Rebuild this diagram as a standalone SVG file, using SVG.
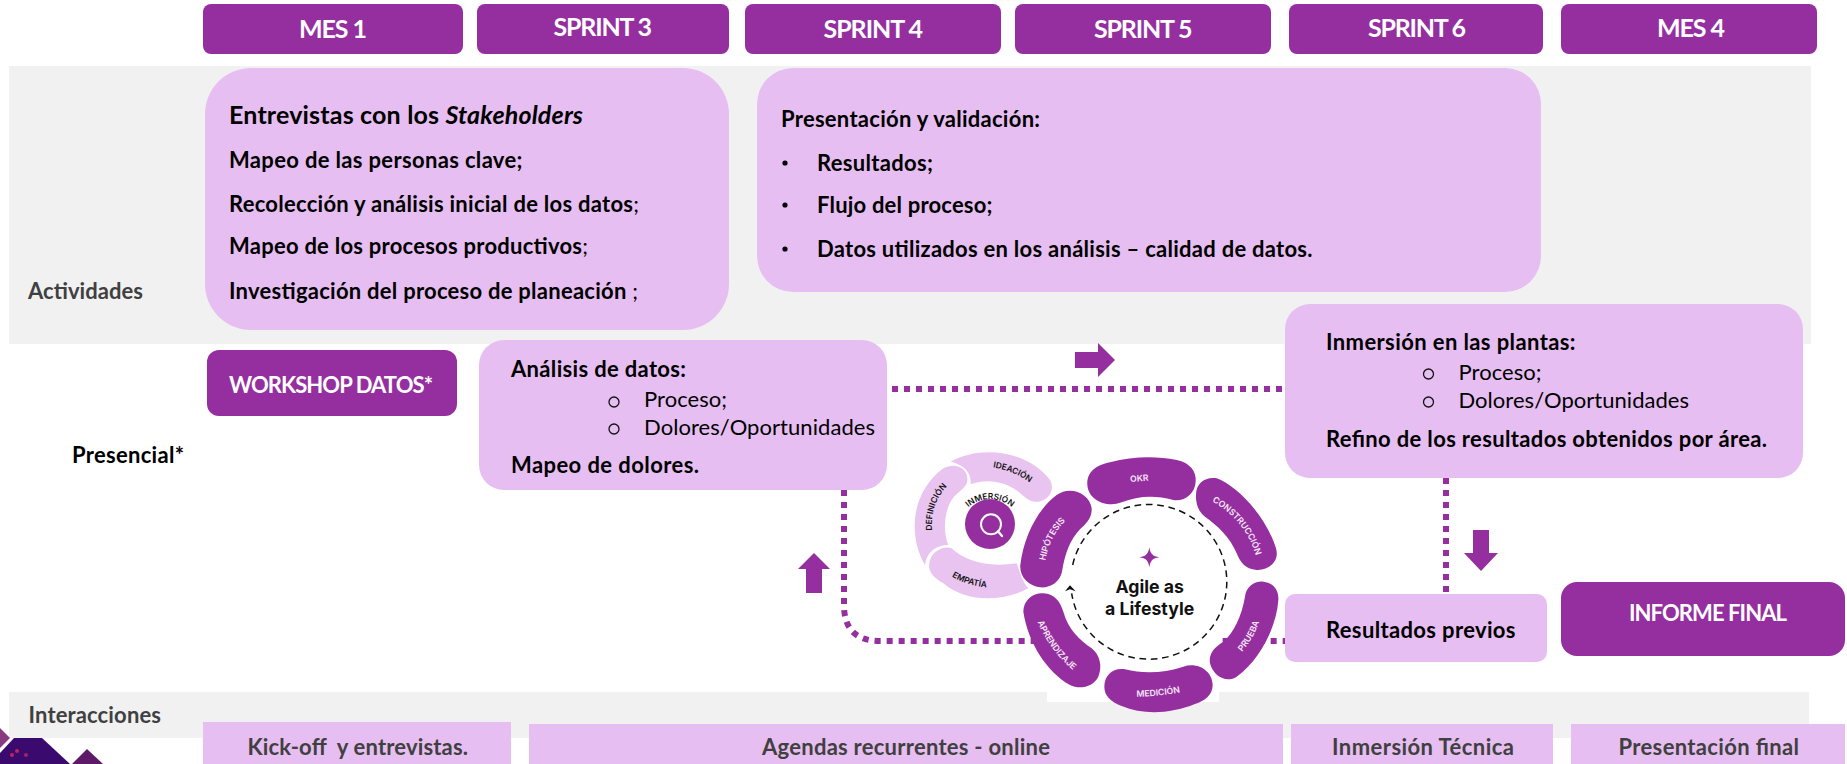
<svg xmlns="http://www.w3.org/2000/svg" xmlns:xlink="http://www.w3.org/1999/xlink" width="1847" height="764" viewBox="0 0 1847 764">
<style>
.band{fill:#f1f1f1}
.pk{fill:#e7bef1}
.dk{fill:#952fa0}
.t{font-family:"Lato","Liberation Sans",sans-serif;font-weight:700;fill:#000}
.h{font-size:25px;fill:#fff;text-anchor:start}
.b{font-size:22px}
.g{fill:#404040}
.r{font-weight:400}
.o{fill:none;stroke:#111;stroke-width:1.3}
.dot{fill:none;stroke:#952fa0;stroke-width:6;stroke-dasharray:6 6}
.w{font-family:"Inter","Liberation Sans",sans-serif;font-weight:600;font-size:26px;text-anchor:middle}
.lw{fill:#f6e8f8}
.lb{fill:#111;font-size:25px}
</style>
<defs>
<path id="pC" d="M1000,216 Q1095,272 1126,372"/>
<path id="pH" d="M497,388 Q510,320 553,276"/>
<path id="pA" d="M468,565 Q505,660 588,728"/>
<path id="pM" d="M768,800 Q835,800 902,787"/>
<path id="pP" d="M1084,668 Q1122,625 1138,572"/>
<path id="pD" d="M156,298 Q152,220 199,172"/>
<path id="pE" d="M215,439 Q265,468 320,472"/>
<path id="pI" d="M260,236 A100,100 0 0 1 400,236"/>
<path id="pK" d="M338,112 Q400,122 450,158"/>
</defs>
<g id="bands">
<rect class="band" x="9" y="66" width="1802" height="278"/>
<rect class="band" x="9" y="692" width="1800" height="46"/>
</g>
<g id="logo">
<path d="M0,728 L10,738 L0,748Z" fill="#8a3a80"/>
<path d="M14,738 H42 L70,764 H0 V753Z" fill="#3a0a6e"/>
<path d="M87,749 L72,764 H103Z" fill="#5e1a68"/>
<circle cx="12" cy="755" r="2" fill="#c0245e"/><circle cx="17" cy="751" r="2" fill="#c0245e"/><circle cx="26" cy="755" r="2" fill="#a82068"/>
</g>
<g id="connectors">
<path class="dot" d="M892,389 H1285"/>
<path class="dot" d="M844,490 V605 Q844,641 880,641 H1285"/>
<path class="dot" d="M1446,478 V594"/>
</g>
<g id="arrows">
<path class="dk" d="M1075,352 H1098 V343 L1115,360 L1098,377 V368 H1075Z"/>
<path class="dk" d="M814,553 L830,569 H822 V593 H806 V569 H798Z"/>
<path class="dk" d="M1473,530 H1489 V553 H1498 L1481,571 L1464,553 H1473Z"/>
</g>
<g id="h-mes1"><rect class="dk" x="203" y="4" width="260" height="50" rx="8"/><text class="t h" x="299" y="38" textLength="68">MES 1</text></g>
<g id="h-s3"><rect class="dk" x="477" y="4" width="252" height="50" rx="8"/><text class="t h" x="553.5" y="36" textLength="98.5">SPRINT 3</text></g>
<g id="h-s4"><rect class="dk" x="745" y="4" width="256" height="50" rx="8"/><text class="t h" x="823.5" y="38" textLength="99.5">SPRINT 4</text></g>
<g id="h-s5"><rect class="dk" x="1015" y="4" width="256" height="50" rx="8"/><text class="t h" x="1094" y="38" textLength="98.5">SPRINT 5</text></g>
<g id="h-s6"><rect class="dk" x="1289" y="4" width="254" height="50" rx="8"/><text class="t h" x="1368" y="36.5" textLength="98">SPRINT 6</text></g>
<g id="h-mes4"><rect class="dk" x="1561" y="4" width="256" height="50" rx="8"/><text class="t h" x="1657" y="36.5" textLength="68">MES 4</text></g>
<g id="label-act"><text class="t b g" x="28" y="299" textLength="115">Actividades</text></g>
<g id="label-pre"><text class="t b" x="72" y="463" textLength="112">Presencial*</text></g>
<g id="label-int"><text class="t b g" x="28.5" y="723" textLength="132.5">Interacciones</text></g>
<g id="stakeholders">
<rect class="pk" x="205" y="68" width="524" height="262" rx="46"/>
<text class="t" font-size="25" x="229" y="124" textLength="354">Entrevistas con los <tspan font-style="italic">Stakeholders</tspan></text>
<text class="t b" x="229" y="168" textLength="293.5">Mapeo de las personas clave;</text>
<text class="t b" x="229" y="212" textLength="410">Recolección y análisis inicial de los datos<tspan class="r">;</tspan></text>
<text class="t b" x="229" y="254" textLength="359">Mapeo de los procesos productivos<tspan class="r">;</tspan></text>
<text class="t b" x="229" y="299" textLength="409">Investigación del proceso de planeación <tspan class="r">;</tspan></text>
</g>
<g id="validacion">
<rect class="pk" x="757" y="68" width="784" height="224" rx="36"/>
<text class="t b" x="781" y="127" textLength="259">Presentación y validación:</text>
<circle cx="785" cy="163" r="2.6"/><circle cx="785" cy="205" r="2.6"/><circle cx="785" cy="249" r="2.6"/>
<text class="t b" x="817" y="171" textLength="116">Resultados;</text>
<text class="t b" x="817" y="213" textLength="175.5">Flujo del proceso;</text>
<text class="t b" x="817" y="257" textLength="495.5">Datos utilizados en los análisis – calidad de datos.</text>
</g>
<g id="workshop"><rect class="dk" x="207" y="350" width="250" height="66" rx="12"/><text class="t b" style="fill:#fff" x="229" y="393" textLength="204">WORKSHOP DATOS*</text></g>
<g id="analisis">
<rect class="pk" x="479" y="340" width="408" height="150" rx="25"/>
<text class="t b" x="511" y="377" textLength="175">Análisis de datos:</text>
<circle class="o" cx="614" cy="402" r="5"/><circle class="o" cx="614" cy="429" r="5"/>
<text class="t b r" x="644" y="407" textLength="83">Proceso;</text>
<text class="t b r" x="644" y="435" textLength="231">Dolores/Oportunidades</text>
<text class="t b" x="511" y="473" textLength="188">Mapeo de dolores.</text>
</g>
<g id="inmersion">
<rect class="pk" x="1285" y="304" width="518" height="174" rx="25"/>
<text class="t b" x="1326" y="350" textLength="249.5">Inmersión en las plantas:</text>
<circle class="o" cx="1428.5" cy="374" r="5"/><circle class="o" cx="1428.5" cy="402" r="5"/>
<text class="t b r" x="1458.5" y="380" textLength="83">Proceso;</text>
<text class="t b r" x="1458.5" y="408" textLength="230.5">Dolores/Oportunidades</text>
<text class="t b" x="1326" y="447" textLength="441">Refino de los resultados obtenidos por área.</text>
</g>
<g id="resultados"><rect class="pk" x="1285" y="594" width="262" height="68" rx="10"/><text class="t b" x="1326" y="638" textLength="189.5">Resultados previos</text></g>
<g id="informe"><rect class="dk" x="1561" y="582" width="284" height="74" rx="16"/><text class="t b" style="fill:#fff" x="1629" y="621" textLength="158">INFORME FINAL</text></g>
<g id="int-kick"><rect class="pk" x="203" y="722" width="308" height="42"/><text class="t b g" x="247.5" y="755" textLength="220.5" xml:space="preserve">Kick-off  y entrevistas.</text></g>
<g id="int-agendas"><rect class="pk" x="529" y="724" width="754" height="40"/><text class="t b g" x="762" y="755" textLength="288">Agendas recurrentes - online</text></g>
<g id="int-tecnica"><rect class="pk" x="1291" y="724" width="262" height="40"/><text class="t b g" x="1332" y="755" textLength="182">Inmersión Técnica</text></g>
<g id="int-final"><rect class="pk" x="1571" y="724" width="274" height="40"/><text class="t b g" x="1618.5" y="755" textLength="180.5">Presentación final</text></g>
<g id="wheel" transform="translate(880,430) scale(0.33333)">
<rect x="501" y="300" width="516" height="516" fill="#fff"/>
<g fill="#e9c4f0">
<path d="M212,95 C300,45 440,60 510,150 C525,175 510,210 475,215 C445,218 430,195 415,185 C375,155 320,145 272,163 C275,130 255,105 212,95Z"/>
<path d="M135,405 C85,320 90,190 190,115 C225,95 265,115 262,150 C262,175 230,185 215,210 C190,250 190,310 205,345 C170,345 140,365 135,405Z"/>
<path d="M147,405 C150,365 190,345 215,355 C245,385 310,415 410,400 C420,430 430,460 445,475 C370,515 260,520 190,460 C165,445 147,430 147,405Z"/>
</g>
<circle class="dk" cx="330" cy="282" r="75"/>
<circle cx="333" cy="283" r="30" fill="none" stroke="#fff" stroke-width="6"/>
<path d="M354,304 L366,318" stroke="#fff" stroke-width="7" stroke-linecap="round"/>
<g class="dk">
<path d="M622,165 C620,125 650,105 690,97 C760,78 830,78 890,90 C930,98 950,125 947,155 C945,190 915,215 880,210 C825,195 775,197 725,217 C680,235 625,210 622,165Z"/>
<path d="M948,195 C948,160 975,140 1010,145 C1065,165 1155,250 1188,355 C1200,395 1165,422 1130,420 C1095,418 1080,395 1070,370 C1050,320 1010,285 975,260 C955,245 947,220 948,195Z"/>
<path d="M1095,500 C1098,470 1125,452 1150,455 C1180,458 1197,480 1195,510 C1190,590 1140,690 1070,740 C1040,760 1000,740 990,700 C985,670 1005,650 1030,635 C1060,610 1085,560 1095,500Z"/>
<path d="M673,770 C673,735 700,712 735,718 C790,732 850,730 910,710 C955,695 998,725 998,765 C998,795 975,812 945,822 C870,852 790,855 725,828 C695,815 673,800 673,770Z"/>
<path d="M430,545 C430,510 460,488 490,490 C525,492 540,515 550,545 C565,600 600,630 635,655 C660,675 668,710 655,740 C640,770 600,780 570,765 C500,725 445,640 430,545Z"/>
<path d="M530,195 C570,165 630,190 635,235 C637,265 615,285 600,298 C570,330 555,370 546,425 C540,455 510,475 480,472 C445,468 418,440 421,405 C430,325 470,240 530,195Z"/>
</g>
<path d="M578,405 A234,232 0 1 1 575,490" fill="none" stroke="#111" stroke-width="4.5" stroke-dasharray="20 14"/>
<path d="M570,466 L587,484 L570,478 L555,484Z" fill="#111"/>
<path class="dk" d="M808,352 C811,372 818,379 838,382 C818,385 811,392 808,412 C805,392 798,385 778,382 C798,379 805,372 808,352Z"/>
<text font-family="Inter,'Liberation Sans',sans-serif" font-weight="700" font-size="53" text-anchor="middle" fill="#111"><tspan x="809" y="490">Agile as</tspan><tspan x="809" y="555">a Lifestyle</tspan></text>
<text class="w lw" transform="rotate(-4 778 145)" x="778" y="154">OKR</text>
<text class="w lw"><textPath href="#pC" xlink:href="#pC" startOffset="50%">CONSTRUCCIÓN</textPath></text>
<text class="w lw"><textPath href="#pH" xlink:href="#pH" startOffset="50%">HIPÓTESIS</textPath></text>
<text class="w lw"><textPath href="#pA" xlink:href="#pA" startOffset="50%">APRENDIZAJE</textPath></text>
<text class="w lw"><textPath href="#pM" xlink:href="#pM" startOffset="50%">MEDICIÓN</textPath></text>
<text class="w lw"><textPath href="#pP" xlink:href="#pP" startOffset="50%">PRUEBA</textPath></text>
<text class="w lb"><textPath href="#pD" xlink:href="#pD" startOffset="50%">DEFINICIÓN</textPath></text>
<text class="w lb"><textPath href="#pE" xlink:href="#pE" startOffset="50%">EMPATÍA</textPath></text>
<text class="w lb"><textPath href="#pI" xlink:href="#pI" startOffset="50%">INMERSIÓN</textPath></text>
<text class="w lb"><textPath href="#pK" xlink:href="#pK" startOffset="50%">IDEACIÓN</textPath></text>
</g>
</svg>
